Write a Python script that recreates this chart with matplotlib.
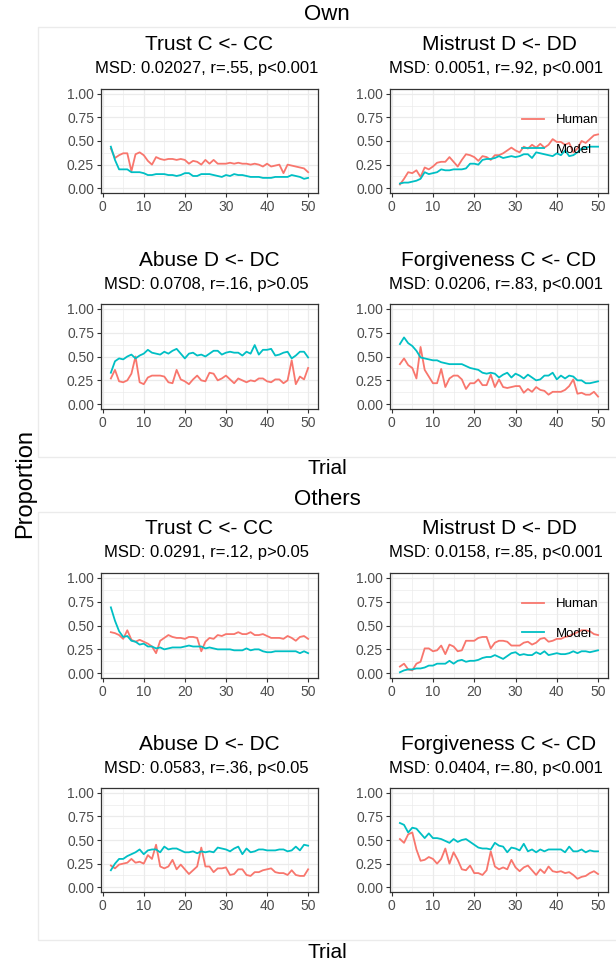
import matplotlib
matplotlib.use("Agg")
import matplotlib.pyplot as plt
from matplotlib.patches import Rectangle
from matplotlib.ticker import MultipleLocator

plt.rcParams['font.family'] = ['Liberation Sans', 'DejaVu Sans']

trials = list(range(2, 51))

# Own
own_trust_human = [0.42, 0.32, 0.35, 0.37, 0.37, 0.18, 0.36, 0.38, 0.35, 0.29, 0.25, 0.33, 0.31, 0.30, 0.31, 0.31, 0.30, 0.31, 0.30, 0.26,
                   0.29, 0.28, 0.25, 0.30, 0.26, 0.30, 0.26, 0.26, 0.26, 0.27, 0.26, 0.27, 0.26, 0.26, 0.25, 0.26, 0.25, 0.23, 0.26, 0.23,
                   0.24, 0.25, 0.16, 0.25, 0.24, 0.23, 0.22, 0.21, 0.17]
own_trust_model = [0.44, 0.30, 0.20, 0.20, 0.20, 0.17, 0.17, 0.17, 0.16, 0.14, 0.14, 0.15, 0.15, 0.15, 0.14, 0.14, 0.13, 0.14, 0.16, 0.16,
                   0.13, 0.13, 0.15, 0.15, 0.15, 0.14, 0.13, 0.12, 0.14, 0.13, 0.15, 0.14, 0.14, 0.13, 0.12, 0.12, 0.12, 0.11, 0.11, 0.11,
                   0.12, 0.12, 0.12, 0.12, 0.14, 0.13, 0.12, 0.10, 0.11]
own_mistrust_human = [0.04, 0.10, 0.17, 0.16, 0.19, 0.12, 0.22, 0.20, 0.23, 0.27, 0.28, 0.28, 0.33, 0.28, 0.23, 0.30, 0.36, 0.35, 0.33, 0.29,
                      0.34, 0.33, 0.30, 0.35, 0.35, 0.37, 0.40, 0.43, 0.40, 0.38, 0.44, 0.42, 0.46, 0.43, 0.47, 0.43, 0.46, 0.52, 0.49, 0.49,
                      0.46, 0.48, 0.38, 0.42, 0.50, 0.48, 0.52, 0.56, 0.57]
own_mistrust_model = [0.05, 0.06, 0.06, 0.07, 0.08, 0.10, 0.17, 0.15, 0.16, 0.17, 0.20, 0.19, 0.19, 0.20, 0.20, 0.20, 0.21, 0.26, 0.26, 0.25,
                      0.30, 0.31, 0.31, 0.32, 0.34, 0.32, 0.33, 0.34, 0.33, 0.34, 0.36, 0.36, 0.32, 0.38, 0.37, 0.36, 0.35, 0.34, 0.37, 0.35,
                      0.40, 0.34, 0.35, 0.38, 0.42, 0.43, 0.44, 0.44, 0.44]
own_abuse_human = [0.27, 0.36, 0.24, 0.23, 0.25, 0.32, 0.50, 0.23, 0.21, 0.28, 0.30, 0.30, 0.30, 0.29, 0.23, 0.22, 0.36, 0.26, 0.24, 0.21,
                   0.26, 0.30, 0.25, 0.24, 0.33, 0.32, 0.25, 0.27, 0.30, 0.26, 0.22, 0.27, 0.25, 0.23, 0.25, 0.24, 0.27, 0.27, 0.24, 0.23,
                   0.26, 0.26, 0.22, 0.25, 0.46, 0.21, 0.29, 0.26, 0.38]
own_abuse_model = [0.33, 0.45, 0.48, 0.47, 0.50, 0.52, 0.48, 0.51, 0.53, 0.57, 0.54, 0.53, 0.52, 0.55, 0.53, 0.56, 0.58, 0.53, 0.48, 0.53,
                   0.54, 0.51, 0.52, 0.50, 0.53, 0.56, 0.56, 0.52, 0.54, 0.55, 0.54, 0.54, 0.51, 0.55, 0.53, 0.62, 0.52, 0.57, 0.57, 0.58,
                   0.51, 0.52, 0.54, 0.55, 0.48, 0.51, 0.55, 0.55, 0.49]
own_forgive_human = [0.42, 0.48, 0.41, 0.38, 0.27, 0.60, 0.36, 0.29, 0.22, 0.22, 0.37, 0.18, 0.27, 0.30, 0.30, 0.26, 0.16, 0.22, 0.22, 0.26,
                     0.20, 0.20, 0.31, 0.18, 0.26, 0.18, 0.17, 0.18, 0.19, 0.19, 0.12, 0.16, 0.13, 0.18, 0.15, 0.14, 0.10, 0.13, 0.13, 0.13,
                     0.15, 0.19, 0.26, 0.11, 0.12, 0.10, 0.10, 0.13, 0.08]
own_forgive_model = [0.63, 0.70, 0.64, 0.61, 0.56, 0.49, 0.48, 0.47, 0.46, 0.46, 0.44, 0.43, 0.42, 0.42, 0.42, 0.42, 0.40, 0.38, 0.37, 0.36,
                     0.33, 0.32, 0.33, 0.32, 0.28, 0.31, 0.33, 0.28, 0.32, 0.30, 0.27, 0.31, 0.28, 0.25, 0.26, 0.30, 0.30, 0.33, 0.26, 0.30,
                     0.27, 0.30, 0.29, 0.25, 0.25, 0.22, 0.22, 0.23, 0.24]

# Others
oth_trust_human = [0.43, 0.42, 0.40, 0.36, 0.45, 0.35, 0.33, 0.35, 0.33, 0.31, 0.28, 0.21, 0.34, 0.37, 0.40, 0.38, 0.37, 0.37, 0.36, 0.38,
                   0.38, 0.37, 0.23, 0.33, 0.37, 0.36, 0.40, 0.39, 0.41, 0.41, 0.41, 0.43, 0.41, 0.41, 0.43, 0.40, 0.40, 0.41, 0.39, 0.37,
                   0.37, 0.37, 0.36, 0.39, 0.37, 0.34, 0.38, 0.39, 0.36]
oth_trust_model = [0.69, 0.55, 0.44, 0.38, 0.39, 0.34, 0.33, 0.30, 0.31, 0.28, 0.28, 0.26, 0.27, 0.25, 0.26, 0.27, 0.27, 0.27, 0.28, 0.29,
                   0.28, 0.28, 0.28, 0.26, 0.27, 0.26, 0.25, 0.25, 0.25, 0.25, 0.24, 0.24, 0.24, 0.26, 0.24, 0.25, 0.25, 0.23, 0.22, 0.22,
                   0.23, 0.23, 0.23, 0.23, 0.23, 0.23, 0.21, 0.23, 0.21]
oth_mistrust_human = [0.07, 0.10, 0.04, 0.03, 0.10, 0.12, 0.26, 0.26, 0.23, 0.24, 0.29, 0.20, 0.30, 0.28, 0.23, 0.24, 0.34, 0.34, 0.34, 0.37,
                      0.38, 0.38, 0.26, 0.32, 0.34, 0.34, 0.33, 0.29, 0.29, 0.29, 0.32, 0.33, 0.30, 0.32, 0.36, 0.37, 0.33, 0.34, 0.36, 0.36,
                      0.38, 0.39, 0.41, 0.43, 0.45, 0.45, 0.44, 0.41, 0.40]
oth_mistrust_model = [0.01, 0.03, 0.04, 0.04, 0.05, 0.05, 0.06, 0.08, 0.08, 0.10, 0.10, 0.10, 0.13, 0.10, 0.13, 0.14, 0.12, 0.13, 0.13, 0.14,
                      0.16, 0.17, 0.17, 0.19, 0.17, 0.15, 0.18, 0.21, 0.22, 0.19, 0.20, 0.19, 0.19, 0.22, 0.20, 0.23, 0.19, 0.20, 0.21, 0.20,
                      0.20, 0.21, 0.23, 0.21, 0.23, 0.23, 0.22, 0.23, 0.24]
oth_abuse_human = [0.23, 0.20, 0.24, 0.25, 0.26, 0.30, 0.26, 0.27, 0.25, 0.34, 0.30, 0.45, 0.22, 0.20, 0.22, 0.29, 0.19, 0.24, 0.19, 0.14,
                   0.18, 0.22, 0.42, 0.22, 0.22, 0.16, 0.20, 0.20, 0.21, 0.13, 0.14, 0.19, 0.19, 0.13, 0.12, 0.16, 0.16, 0.18, 0.19, 0.20,
                   0.16, 0.15, 0.15, 0.13, 0.18, 0.13, 0.12, 0.12, 0.19]
oth_abuse_model = [0.18, 0.25, 0.30, 0.30, 0.33, 0.35, 0.37, 0.40, 0.35, 0.39, 0.40, 0.40, 0.37, 0.43, 0.40, 0.41, 0.41, 0.39, 0.37, 0.37,
                   0.38, 0.36, 0.38, 0.37, 0.38, 0.37, 0.42, 0.41, 0.40, 0.38, 0.41, 0.43, 0.35, 0.41, 0.37, 0.38, 0.40, 0.40, 0.39, 0.39,
                   0.39, 0.40, 0.40, 0.38, 0.39, 0.43, 0.39, 0.45, 0.44]
oth_forgive_human = [0.51, 0.47, 0.56, 0.58, 0.40, 0.28, 0.29, 0.32, 0.30, 0.25, 0.30, 0.41, 0.25, 0.37, 0.29, 0.19, 0.18, 0.23, 0.15, 0.15,
                     0.13, 0.18, 0.38, 0.22, 0.19, 0.21, 0.19, 0.29, 0.21, 0.17, 0.21, 0.23, 0.18, 0.13, 0.19, 0.15, 0.22, 0.17, 0.16, 0.17,
                     0.15, 0.16, 0.13, 0.09, 0.11, 0.12, 0.15, 0.17, 0.14]
oth_forgive_model = [0.68, 0.66, 0.58, 0.63, 0.62, 0.57, 0.52, 0.57, 0.52, 0.52, 0.51, 0.49, 0.47, 0.51, 0.48, 0.50, 0.51, 0.48, 0.45, 0.42,
                     0.41, 0.41, 0.40, 0.47, 0.44, 0.43, 0.37, 0.42, 0.41, 0.39, 0.46, 0.38, 0.40, 0.37, 0.40, 0.38, 0.40, 0.40, 0.40, 0.40,
                     0.37, 0.43, 0.38, 0.38, 0.40, 0.37, 0.39, 0.38, 0.38]

titles = ["Trust C <- CC", "Mistrust D <- DD", "Abuse D <- DC", "Forgiveness C <- CD"]
own_stats = ["MSD: 0.02027, r=.55, p<0.001", "MSD: 0.0051, r=.92, p<0.001",
             "MSD: 0.0708, r=.16, p>0.05", "MSD: 0.0206, r=.83, p<0.001"]
oth_stats = ["MSD: 0.0291, r=.12, p>0.05", "MSD: 0.0158, r=.85, p<0.001",
             "MSD: 0.0583, r=.36, p<0.05", "MSD: 0.0404, r=.80, p<0.001"]

own_series = [(own_trust_human, own_trust_model), (own_mistrust_human, own_mistrust_model),
              (own_abuse_human, own_abuse_model), (own_forgive_human, own_forgive_model)]
oth_series = [(oth_trust_human, oth_trust_model), (oth_mistrust_human, oth_mistrust_model),
              (oth_abuse_human, oth_abuse_model), (oth_forgive_human, oth_forgive_model)]

HUMAN_COL = '#F8766D'
MODEL_COL = '#00BFC4'
W, H = 616, 965

fig = plt.figure(figsize=(W / 100, H / 100), dpi=100)


def fx(px):
    return px / W


def fy(py):
    return 1 - py / H


col_x = [(101, 318), (390, 608)]
block_rows = {"Own": [(89, 193), (304, 409)], "Others": [(573, 678), (788, 892)]}


def draw_panel(x0, x1, y0, y1, human, model, title, stat, legend):
    ax = fig.add_axes([fx(x0), fy(y1), (x1 - x0) / W, (y1 - y0) / H])
    ax.plot(trials, human, color=HUMAN_COL, lw=1.3, label='Human')
    ax.plot(trials, model, color=MODEL_COL, lw=1.3, label='Model')
    ax.set_xlim(-0.4, 52.4)
    ax.set_ylim(-0.05, 1.05)
    ax.xaxis.set_major_locator(MultipleLocator(10))
    ax.xaxis.set_minor_locator(MultipleLocator(5))
    ax.yaxis.set_major_locator(MultipleLocator(0.25))
    ax.yaxis.set_minor_locator(MultipleLocator(0.125))
    ax.yaxis.set_major_formatter(lambda v, p: f"{v:.2f}")
    ax.grid(which='major', color='#EBEBEB', lw=0.9)
    ax.grid(which='minor', color='#EBEBEB', lw=0.5)
    ax.set_axisbelow(True)
    ax.tick_params(which='major', length=3, width=0.8, color='#333333', labelcolor='#4D4D4D', labelsize=10, pad=2)
    ax.tick_params(which='minor', length=0)
    for s in ax.spines.values():
        s.set_color('#333333')
        s.set_linewidth(0.9)
    cx = fx((x0 + x1) / 2)
    fig.text(cx, fy(y0 - 44), title, ha='center', va='center', fontsize=15)
    fig.text(cx - fx(3), fy(y0 - 20), stat, ha='center', va='center', fontsize=12)
    if legend:
        ax.legend(frameon=False, loc='upper left', bbox_to_anchor=(0.605, 0.76), borderaxespad=0, borderpad=0,
                  handlelength=1.7, handletextpad=0.9, labelspacing=1.3, fontsize=9.5)
    return ax


for name, stats, series, top, bot in [("Own", own_stats, own_series, 27, 457),
                                      ("Others", oth_stats, oth_series, 512, 940)]:
    fig.patches.append(Rectangle((fx(38), fy(bot)), 1.0, (bot - top) / H, transform=fig.transFigure,
                                 fill=False, edgecolor='#EBEBEB', lw=1.0))
    fig.text(fx(327), fy(top - 12), name, ha='center', va='center', fontsize=16)
    fig.text(fx(327), fy(bot + 12), "Trial", ha='center', va='center', fontsize=15)
    rows = block_rows[name]
    for i in range(4):
        r, c = divmod(i, 2)
        x0, x1 = col_x[c]
        y0, y1 = rows[r]
        draw_panel(x0, x1, y0, y1, series[i][0], series[i][1], titles[i], stats[i], i == 1)

fig.text(fx(25), fy(483), "Proportion", rotation=90, ha='center', va='center', fontsize=17)

fig.savefig('out.png', dpi=100)
